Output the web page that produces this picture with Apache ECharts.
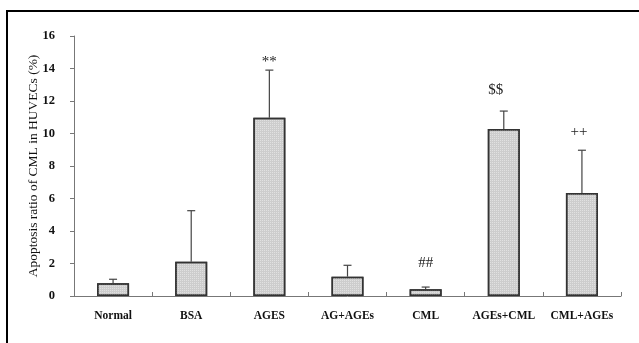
<!DOCTYPE html>
<html><head><meta charset="utf-8">
<script src="https://cdn.jsdelivr.net/npm/echarts@6/dist/echarts.min.js"></script>
<style>html,body{margin:0;padding:0;background:#fff;}#c{width:639px;height:343px;}</style>
</head><body><div id="c"></div>
<script>
var categories = ['Normal', 'BSA', 'AGES', 'AG+AGEs', 'CML', 'AGEs+CML', 'CML+AGEs'];
var means = [0.78, 2.11, 10.97, 1.19, 0.41, 10.28, 6.34];
var errorTops = [1.03, 5.25, 13.9, 1.89, 0.55, 11.38, 8.97];
var marks = ['', '', '**', '', '##', '$$', '++'];
var markOffsets = [0, 0, 0, 0, 0, -8, -3];
var markHeights = [0, 0, 14.4, 0, 2.05, 12.7, 10.1];
var yTicks = [0, 2, 4, 6, 8, 10, 12, 14, 16];

var serif = '"Liberation Serif", "DejaVu Serif", serif';
var chart = echarts.init(document.getElementById('c'), null, {renderer: 'canvas'});
chart.setOption({
  animation: false,
  backgroundColor: '#fff',
  graphic: [{
    type: 'rect', shape: {x: 7, y: 11, width: 700, height: 400},
    style: {fill: 'none', stroke: '#000', lineWidth: 2}
  }],
  grid: {left: 74, right: 18, top: 36, bottom: 47},
  xAxis: {
    type: 'category', data: categories,
    axisLine: {lineStyle: {color: '#777', width: 1}},
    axisTick: {show: true, alignWithLabel: false, length: 4, inside: true, lineStyle: {color: '#777'}},
    axisLabel: {interval: 0, fontFamily: serif, fontWeight: 'bold', fontSize: 11.5, color: '#111', margin: 14}
  },
  yAxis: {
    type: 'value', min: 0, max: 16, interval: 2,
    name: 'Apoptosis ratio of CML in HUVECs (%)',
    nameLocation: 'middle', nameGap: 34, nameRotate: 90, nameMoveOverlap: false,
    nameTextStyle: {fontFamily: serif, fontSize: 13.5, color: '#111'},
    axisLine: {show: true, lineStyle: {color: '#777', width: 1}},
    axisTick: {show: true, length: 4, inside: false, lineStyle: {color: '#777'}},
    splitLine: {show: false},
    axisLabel: {fontFamily: serif, fontWeight: 'bold', fontSize: 12.5, color: '#111', margin: 19,
      formatter: function (v) { return yTicks.indexOf(v) >= 0 ? String(v) : ''; }}
  },
  series: [{
    type: 'bar', data: means, barWidth: 32,
    itemStyle: {
      color: '#cdcdcd', borderColor: '#333', borderWidth: 1.5,
      decal: {symbol: 'rect', symbolSize: 1, dashArrayX: [1, 1], dashArrayY: [1, 1], color: 'rgba(255,255,255,0.4)', rotation: 0}
    },
    z: 2
  }, {
    type: 'custom',
    z: 3,
    data: categories.map(function (c, i) { return [i, means[i], errorTops[i]]; }),
    renderItem: function (params, api) {
      var i = api.value(0);
      var base = api.coord([i, api.value(1)]);
      var top = api.coord([i, api.value(2)]);
      return {
        type: 'group',
        children: [
          {type: 'line', shape: {x1: base[0], y1: base[1], x2: top[0], y2: top[1]}, style: {stroke: '#444', lineWidth: 1.2}},
          {type: 'line', shape: {x1: top[0] - 4, y1: top[1], x2: top[0] + 4, y2: top[1]}, style: {stroke: '#444', lineWidth: 1.2}}
        ]
      };
    }
  }, {
    type: 'custom',
    z: 4,
    data: categories.map(function (c, i) { return [i, markHeights[i]]; }),
    renderItem: function (params, api) {
      var i = params.dataIndex;
      if (!marks[i]) return null;
      var p = api.coord([api.value(0), api.value(1)]);
      return {
        type: 'text',
        style: {x: p[0] + markOffsets[i], y: p[1], text: marks[i], align: 'center', verticalAlign: 'middle',
          font: '15px ' + serif, fill: '#222'}
      };
    }
  }]
});
</script></body></html>
